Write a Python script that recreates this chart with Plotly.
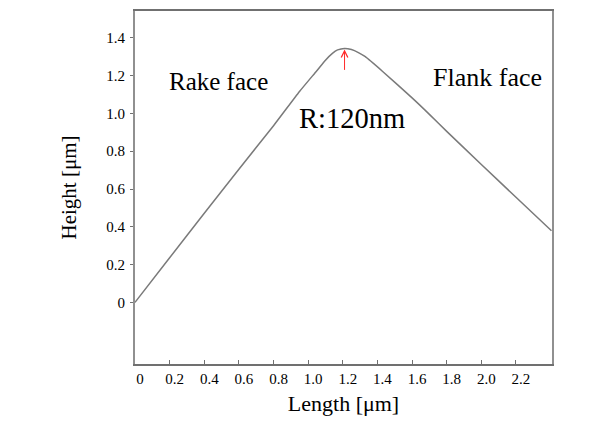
import plotly.graph_objects as go

# ---- data ----
length_um = [0, 0.2, 0.4, 0.6, 0.8, 0.95, 1.05, 1.10, 1.14, 1.17, 1.21, 1.25, 1.29, 1.33, 1.43, 1.6, 1.7, 1.8, 2.0, 2.2, 2.405]
height_um = [0, 0.236, 0.472, 0.705, 0.935, 1.116, 1.226, 1.282, 1.318, 1.336, 1.344, 1.338, 1.322, 1.300, 1.222, 1.082, 0.995, 0.905, 0.73, 0.556, 0.379]

x_tickvals = [0, 0.2, 0.4, 0.6, 0.8, 1.0, 1.2, 1.4, 1.6, 1.8, 2.0, 2.2]
x_ticktext = ["0", "0.2", "0.4", "0.6", "0.8", "1.0", "1.2", "1.4", "1.6", "1.8", "2.0", "2.2"]
y_tickvals = [0, 0.2, 0.4, 0.6, 0.8, 1.0, 1.2, 1.4]
y_ticktext = ["0", "0.2", "0.4", "0.6", "0.8", "1.0", "1.2", "1.4"]

labels = ["Rake face", "Flank face", "R:120nm"]
label_x = [0.485, 2.035, 1.253]
label_y = [1.171, 1.189, 0.975]
label_size = [25, 26, 28.5]

FONT = "Liberation Serif"

fig = go.Figure()
fig.add_trace(go.Scatter(
    x=length_um, y=height_um, mode="lines",
    line=dict(color="#7a7a7a", width=1.5, shape="spline", smoothing=0.5),
    showlegend=False, hoverinfo="skip",
))

for t, lx, ly, s in zip(labels, label_x, label_y, label_size):
    fig.add_annotation(x=lx, y=ly, text=t, showarrow=False,
                       font=dict(family=FONT, size=s, color="black"),
                       xanchor="center", yanchor="middle")

# red arrow pointing at the apex
i_peak = height_um.index(max(height_um))
fig.add_annotation(x=length_um[i_peak], y=height_um[i_peak], text="",
                   showarrow=True, ax=0, ay=23, axref="pixel", ayref="pixel",
                   arrowhead=5, arrowsize=1.3, arrowwidth=1, arrowcolor="#ff2a2a",
                   standoff=1)

fig.update_layout(
    width=591, height=421,
    margin=dict(l=135, r=39, t=9, b=57),
    paper_bgcolor="white", plot_bgcolor="white",
    font=dict(family=FONT, color="black"),
    xaxis=dict(
        range=[0, 2.408], tickvals=x_tickvals, ticktext=x_ticktext,
        showgrid=False, zeroline=False,
        showline=True, linecolor="#707070", linewidth=1.5, mirror=True,
        ticks="inside", ticklen=4, tickcolor="#707070",
        tickfont=dict(family=FONT, size=15, color="black"),
        ticklabelshift=5,
        title=dict(text="Length [μm]", font=dict(family=FONT, size=22, color="black"), standoff=10),
    ),
    yaxis=dict(
        range=[-0.326, 1.542], tickvals=y_tickvals, ticktext=y_ticktext,
        showgrid=False, zeroline=False,
        showline=True, linecolor="#909090", linewidth=2, mirror=True,
        ticks="outside", ticklen=3, tickcolor="#707070",
        tickfont=dict(family=FONT, size=15, color="black"),
        ticklabelstandoff=2,
        title=dict(text="Height [μm]", font=dict(family=FONT, size=21, color="black"), standoff=24),
    ),
)

fig.write_html("out.html", config={"displayModeBar": False},
               post_script="document.body.style.margin='0';")
